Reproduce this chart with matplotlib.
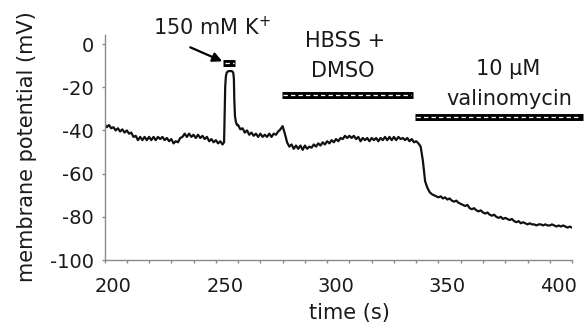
import numpy as np
import matplotlib
matplotlib.use('Agg')
import matplotlib.pyplot as plt
import matplotlib.transforms as mtransforms

# trace, 1 s steps outside the K+ pulse
t_pre = np.arange(200, 254)
v_pre = [-37, -38.5, -37.5, -39, -38.5, -40, -39, -40.5, -39.5, -41,
         -40, -41.5, -41, -43, -42.5, -44.5, -43, -44.5, -43, -44.5,
         -43, -44.5, -43, -44.5, -43, -44, -43, -44.5, -43.5, -45,
         -44, -46, -45, -45.5, -43.5, -43, -41.5, -43, -41.5, -43,
         -42, -43.5, -42, -43.5, -42.5, -44, -43, -45, -44, -45.5,
         -44.5, -46, -45, -46.5]

t_pulse = [253.7, 254.0, 254.2, 254.5, 254.9, 255.5, 256.5, 257.3, 257.8,
           258.1, 258.3, 258.6, 259.0, 259.5]
v_pulse = [-45.5, -30, -20, -15, -13.2, -12.6, -12.5, -12.6, -13.2,
           -16, -26, -33.5, -36, -37.5]

t_post = np.arange(260, 411)
v_post = [-37.5, -39.5, -39, -41, -40, -42, -41, -42.5, -41.5, -43,
          -41.5, -43, -42, -43, -41.5, -43, -41.5, -42, -40.5, -39.5,
          -38, -41.5, -45.5, -47.5, -46.5, -48.5, -47, -48.5, -47, -49,
          -47, -48.5, -47.5, -48, -46.5, -47.5, -46, -47, -45.5, -46.5,
          -45, -46, -44.5, -45.5, -44, -45, -43.5, -44, -42.5, -43.5,
          -42.5, -43.5, -42.5, -44, -43, -45, -43.5, -44.5, -43.5, -45,
          -43.5, -44.5, -43.5, -45, -43.5, -44.5, -43, -44.5, -43, -44.5,
          -43, -44.5, -43, -44, -43.5, -44.5, -43.5, -45, -44, -45.5,
          -45, -46, -47.5, -54, -63.5, -66.5, -68.5, -69.5, -70, -70.5,
          -71, -70.5, -71.5, -71, -72, -71.5, -72.5, -73, -72.5, -73.5,
          -74, -74.5, -75, -74.5, -76, -76.5, -76, -77, -77.5, -77,
          -78, -78.5, -78, -79, -79.5, -79, -80, -80.5, -80, -81,
          -80.5, -81, -81.5, -81, -82, -82.5, -82, -83, -82.5, -83,
          -83.5, -83, -83.5, -83.5, -84, -83.5, -83.5, -84, -83.5, -84,
          -84, -83.5, -84, -84.5, -84, -84.5, -84, -84.5, -85, -84.5, -85]

# application bars: start, end, level
bar_k = (253.1, 258.8, -8.8)
bar_hbss = (279.5, 338.5, -23.8)
bar_vali = (339.3, 414.8, -33.8)

x_ticks = [200, 250, 300, 350, 400]
y_ticks = [0, -20, -40, -60, -80, -100]

txt = '#1a1a1a'
grey = '#8a8a8a'

fig = plt.figure(figsize=(5.84, 3.29), dpi=100)
ax = fig.add_axes([0.179, 0.2097, 0.8005, 0.6827])

t = np.concatenate([t_pre, t_pulse, t_post])
v = np.concatenate([v_pre, v_pulse, v_post])
ax.plot(t, v, color='#111111', lw=1.6)

def app_bar(x0, x1, y):
    ax.plot([x0, x1], [y, y], color='k', lw=5, solid_capstyle='butt', clip_on=False)
    ax.plot([x0 + 0.8, x1 - 0.8], [y, y], color='w', lw=0.9,
            dashes=(3.5, 2.5), clip_on=False)

app_bar(*bar_k)
app_bar(*bar_hbss)
app_bar(*bar_vali)

ax.text(248.3, 4.2, '150 mM K$^{+}$', fontsize=15, color=txt, ha='center', va='baseline')
ax.annotate('', xy=(252.9, -8.0), xytext=(238.5, -1.5),
            arrowprops=dict(arrowstyle='-|>', color='k', lw=1.6, mutation_scale=14,
                            shrinkA=0, shrinkB=0))
ax.text(308, -1.3, 'HBSS +', fontsize=15, color=txt, ha='center', va='baseline')
ax.text(307, -15.3, 'DMSO', fontsize=15, color=txt, ha='center', va='baseline')
ax.text(381.5, -14.4, '10 µM', fontsize=15, color=txt, ha='center', va='baseline')
ax.text(382, -28.2, 'valinomycin', fontsize=15, color=txt, ha='center', va='baseline')

ax.set_xlim(200, 410)
ax.set_ylim(-100, 4)
ax.set_xticks(x_ticks)
ax.set_xticks(np.arange(200, 411, 10), minor=True)
ax.set_xticklabels([str(x) for x in x_ticks])
ax.set_yticks(y_ticks)
ax.set_yticklabels([str(y) for y in y_ticks])

for s in ['top', 'right']:
    ax.spines[s].set_visible(False)
for s in ['left', 'bottom']:
    ax.spines[s].set_color(grey)
    ax.spines[s].set_linewidth(1.0)

ax.tick_params(axis='x', which='both', direction='out', length=2.5, width=1,
               color=grey, labelsize=14, labelcolor=txt, pad=10)
ax.tick_params(axis='y', direction='out', length=2.5, width=1,
               color=grey, labelsize=14, labelcolor=txt, pad=5)

# x labels in the source sit a little right of their ticks
shift = mtransforms.ScaledTranslation(0.09, 0, fig.dpi_scale_trans)
for lab in ax.get_xticklabels():
    lab.set_transform(lab.get_transform() + shift)

fig.text(0.046, 0.555, 'membrane potential (mV)', rotation=90, fontsize=15,
         color=txt, ha='center', va='center')
fig.text(0.5976, 0.048, 'time (s)', fontsize=15, color=txt, ha='center', va='center')

fig.savefig('out.png', dpi=100)
